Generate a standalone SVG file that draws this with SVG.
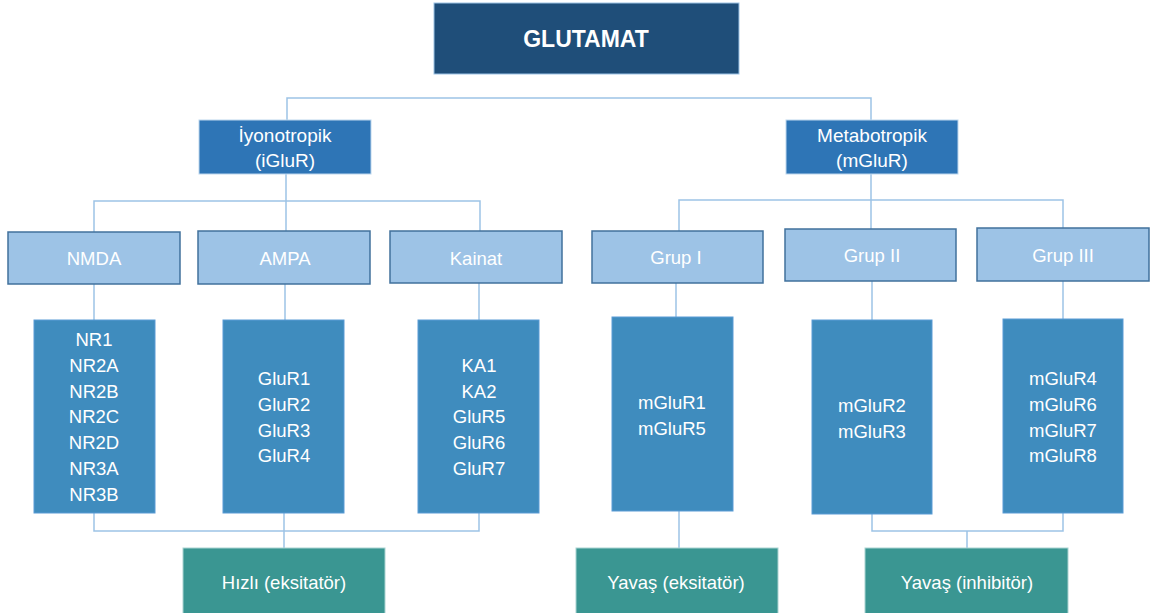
<svg xmlns="http://www.w3.org/2000/svg" width="1157" height="613" viewBox="0 0 1157 613">
<style>
.ln{fill:none;stroke:#9DC3E6;stroke-width:1.5}
.t{font-family:"Liberation Sans",Arial,sans-serif;fill:#fff;text-anchor:middle}
.l1{fill:#1F4E79;stroke:#9DC3E6;stroke-width:1}
.l2{fill:#2E75B6;stroke:#BDD7EE;stroke-width:1}
.l3{fill:#9DC3E6;stroke:#41719C;stroke-width:1.5}
.l4{fill:#3F8CBE;stroke:#5B9BD5;stroke-width:1}
.l5{fill:#3A9692;stroke:#A9D3D1;stroke-width:1}
</style>
<rect width="1157" height="613" fill="#fff"/>
<g id="connectors">
<path class="ln" d="M287 120V98H871V120"/>
<path class="ln" d="M286 174V232M94 232V201H480V231"/>
<path class="ln" d="M871 174V229M679 231V200H1063V228"/>
<path class="ln" d="M94 284V320M285 284V320M479 283V320M676 283V317M872 281V320M1063 281V319"/>
<path class="ln" d="M94 513V531H479V513M284 513V548"/>
<path class="ln" d="M679 511V548"/>
<path class="ln" d="M872 514V531H1063V513M967 531V548"/>
</g>
<g id="glutamat"><rect class="l1" x="434" y="3" width="305" height="71"/><text class="t" x="586" y="47" font-size="23" font-weight="bold">GLUTAMAT</text></g>
<g id="iyonotropik"><rect class="l2" x="199" y="120" width="172" height="54"/><text class="t" x="285" y="142" font-size="19">İyonotropik</text><text class="t" x="285" y="167" font-size="19">(iGluR)</text></g>
<g id="metabotropik"><rect class="l2" x="786" y="120" width="172" height="54"/><text class="t" x="872" y="142" font-size="19">Metabotropik</text><text class="t" x="872" y="167" font-size="19">(mGluR)</text></g>
<g id="nmda"><rect class="l3" x="8" y="232" width="172" height="52"/><text class="t" x="94" y="264.5" font-size="18.5">NMDA</text></g>
<g id="ampa"><rect class="l3" x="198" y="231" width="172" height="53"/><text class="t" x="285" y="264.5" font-size="18.5">AMPA</text></g>
<g id="kainat"><rect class="l3" x="390" y="231" width="172" height="52"/><text class="t" x="476" y="264.5" font-size="18.5">Kainat</text></g>
<g id="grup1"><rect class="l3" x="592" y="231" width="171" height="52"/><text class="t" x="676" y="263.5" font-size="18.5">Grup I</text></g>
<g id="grup2"><rect class="l3" x="785" y="229" width="171" height="52"/><text class="t" x="872" y="261.5" font-size="18.5">Grup II</text></g>
<g id="grup3"><rect class="l3" x="977" y="228" width="172" height="53"/><text class="t" x="1063" y="261.5" font-size="18.5">Grup III</text></g>
<g id="nr"><rect class="l4" x="34" y="320" width="121" height="193"/><g class="t" font-size="18.5"><text x="94" y="345.5">NR1</text><text x="94" y="371.5">NR2A</text><text x="94" y="397.5">NR2B</text><text x="94" y="422.5">NR2C</text><text x="94" y="448.5">NR2D</text><text x="94" y="474.5">NR3A</text><text x="94" y="500.5">NR3B</text></g></g>
<g id="glur"><rect class="l4" x="223" y="320" width="121" height="193"/><g class="t" font-size="18.5"><text x="284" y="384.5">GluR1</text><text x="284" y="410.5">GluR2</text><text x="284" y="436.5">GluR3</text><text x="284" y="461.5">GluR4</text></g></g>
<g id="ka"><rect class="l4" x="418" y="320" width="121" height="193"/><g class="t" font-size="18.5"><text x="479" y="371.5">KA1</text><text x="479" y="397.5">KA2</text><text x="479" y="422.5">GluR5</text><text x="479" y="448.5">GluR6</text><text x="479" y="474.5">GluR7</text></g></g>
<g id="mglur1"><rect class="l4" x="612" y="317" width="121" height="194"/><g class="t" font-size="18.5"><text x="672" y="408.5">mGluR1</text><text x="672" y="434.5">mGluR5</text></g></g>
<g id="mglur2"><rect class="l4" x="812" y="320" width="120" height="194"/><g class="t" font-size="18.5"><text x="872" y="411.5">mGluR2</text><text x="872" y="437.5">mGluR3</text></g></g>
<g id="mglur4"><rect class="l4" x="1003" y="319" width="120" height="194"/><g class="t" font-size="18.5"><text x="1063" y="384.5">mGluR4</text><text x="1063" y="410.5">mGluR6</text><text x="1063" y="436.5">mGluR7</text><text x="1063" y="461.5">mGluR8</text></g></g>
<g id="hizli"><rect class="l5" x="183" y="548" width="202" height="70"/><text class="t" x="284" y="588.5" font-size="18.5">Hızlı (eksitatör)</text></g>
<g id="yavas-eks"><rect class="l5" x="576" y="548" width="202" height="70"/><text class="t" x="676" y="588.5" font-size="18.5">Yavaş (eksitatör)</text></g>
<g id="yavas-inh"><rect class="l5" x="865" y="548" width="203" height="70"/><text class="t" x="967" y="588.5" font-size="18.5">Yavaş (inhibitör)</text></g>
</svg>
